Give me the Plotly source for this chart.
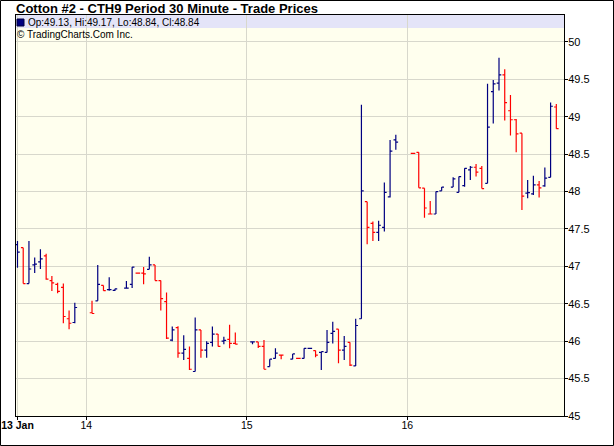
import plotly.graph_objects as go

# ---------------- data (30-minute bars; x = session slot index, 28 slots per day) -------------
slot = [16, 17, 18, 19, 20, 21, 22, 23, 24, 25, 26,
        29, 30, 31, 32, 33, 35, 36, 37, 38, 39, 40, 41, 42, 43, 44, 45, 46, 47, 48, 49, 50, 51, 52, 53, 54,
        57, 58, 59, 60, 61, 62, 64, 65, 66, 67, 68, 69, 70, 71, 72, 73, 74, 75, 76, 77, 78, 79, 80, 81, 82,
        85, 86, 87, 88, 89, 90, 92, 93, 94, 95, 96, 97, 98, 99, 100, 101, 102, 103, 104, 105, 106, 107, 108, 109, 110]

open_ = [47.29, 47.25, 46.77, 47.02, 47.06, 47.14, 46.81, 46.76, 46.72, 46.30, 46.25,
         46.38, 46.54, 46.745, 46.69, 46.68, 46.71, 46.76, 46.91, 46.91, 46.96, 47.02, 46.81, 46.53, 46.015, 46.18, 45.84, 45.77, 45.595, 46.15, 45.88, 45.985, 46.095, 46.00, 46.025, 45.97,
         45.99, 45.99, 45.93, 45.66, 45.77, 45.815, 45.76, 45.77, 45.77, 45.905, 45.875, 45.85, 45.85, 46.105, 46.16, 45.88, 45.985, 45.67, 46.30, 47.865, 47.575, 47.455, 47.52, 47.93, 48.69,
         48.51, 48.525, 48.045, 47.70, 47.70, 48.01, 48.06, 47.99, 48.08, 48.29, 48.325, 48.31, 48.11, 49.335, 49.45, 49.56, 49.08, 48.96, 48.78, 47.98, 47.97, 48.09, 48.075, 48.19, 49.13]

high = [47.34, 47.25, 47.34, 47.12, 47.23, 47.17, 46.87, 46.78, 46.77, 46.41, 46.515,
        46.54, 47.02, 46.745, 46.855, 46.70, 46.805, 46.99, 46.91, 46.99, 47.13, 47.02, 46.81, 46.65, 46.195, 46.20, 46.08, 45.93, 46.315, 46.15, 46.00, 46.195, 46.095, 46.06, 46.22, 46.115,
        45.99, 45.99, 46.015, 45.76, 45.905, 45.815, 45.83, 45.77, 45.905, 45.905, 45.875, 45.86, 46.15, 46.26, 46.16, 46.07, 45.985, 46.30, 49.16, 47.865, 47.60, 47.61, 48.12, 48.69, 48.76,
        48.51, 48.525, 48.045, 47.875, 48.00, 48.06, 48.19, 48.20, 48.31, 48.34, 48.37, 48.34, 49.44, 49.49, 49.79, 49.635, 49.29, 48.97, 48.78, 48.155, 48.21, 48.14, 48.32, 49.19, 49.17]

low = [46.98, 46.77, 46.77, 46.91, 46.965, 46.82, 46.67, 46.64, 46.24, 46.16, 46.24,
       46.37, 46.54, 46.675, 46.675, 46.67, 46.70, 46.71, 46.91, 46.76, 46.96, 46.81, 46.41, 46.03, 46.00, 45.78, 45.75, 45.615, 45.595, 45.78, 45.78, 45.93, 45.93, 45.96, 45.905, 45.96,
       45.96, 45.91, 45.625, 45.66, 45.77, 45.76, 45.76, 45.77, 45.77, 45.905, 45.785, 45.615, 45.85, 45.97, 45.705, 45.75, 45.67, 45.67, 46.30, 47.295, 47.34, 47.34, 47.465, 47.92, 48.56,
       48.51, 48.05, 47.65, 47.70, 47.70, 48.01, 48.06, 47.99, 48.065, 48.155, 48.20, 48.04, 48.11, 48.91, 49.35, 48.95, 48.75, 48.525, 47.755, 47.91, 47.955, 47.92, 48.065, 48.19, 48.84]

close = [47.19, 46.77, 46.965, 47.03, 47.10, 46.83, 46.78, 46.665, 46.33, 46.24, 46.45,
         46.37, 46.76, 46.675, 46.69, 46.70, 46.71, 46.99, 46.91, 46.90, 47.02, 46.81, 46.57, 46.04, 46.15, 45.84, 45.89, 45.625, 46.15, 45.88, 45.97, 46.095, 45.93, 46.01, 45.97, 45.96,
         45.99, 45.93, 45.625, 45.76, 45.84, 45.815, 45.83, 45.77, 45.905, 45.905, 45.815, 45.86, 45.985, 46.13, 45.88, 45.93, 45.68, 46.21, 48.01, 47.52, 47.455, 47.55, 47.99, 48.54, 48.66,
         48.51, 48.05, 47.78, 47.70, 48.00, 48.06, 48.17, 48.20, 48.31, 48.325, 48.26, 48.04, 48.86, 49.44, 49.56, 49.19, 48.96, 48.77, 47.94, 47.985, 48.09, 48.05, 48.18, 49.14, 48.84]

prev_close = 47.05          # close of the bar before the first one shown

day_ticks = [16, 28, 56, 84]
day_labels = ["<b>13 Jan</b>", "14", "15", "16"]

title_text = "Cotton #2 - CTH9 Period 30 Minute - Trade Prices"
credit_text = "\u00a9 TradingCharts.Com Inc."

UP = "#000080"
DOWN = "#FF0000"
FONT = "Liberation Sans, Arial, sans-serif"

# colour by change of close versus previous close (ties keep the previous direction)
dirs = []
last = prev_close
d = 1
for c in close:
    if c > last:
        d = 1
    elif c < last:
        d = -1
    dirs.append(d)
    last = c

fig = go.Figure()
for sign, col in [(1, UP), (-1, DOWN)]:
    idx = [i for i, dd in enumerate(dirs) if dd == sign]
    fig.add_trace(go.Ohlc(
        x=[slot[i] for i in idx],
        open=[open_[i] for i in idx],
        high=[high[i] for i in idx],
        low=[low[i] for i in idx],
        close=[close[i] for i in idx],
        increasing=dict(line=dict(color=col, width=1.2)),
        decreasing=dict(line=dict(color=col, width=1.2)),
        tickwidth=0.4,
        hoverinfo="skip",
        showlegend=False,
    ))

W, H = 614, 446
ML, MR, MT, MB = 16, 50, 15, 30
PW = W - ML - MR
PH = H - MT - MB

def px2x(px):
    return (px - ML) / PW

def py2y(py):
    return (H - MB - py) / PH

GRID = "#D8D8CC"

fig.update_layout(
    width=W, height=H,
    margin=dict(l=ML, r=MR, t=MT, b=MB, pad=0, autoexpand=False),
    paper_bgcolor="#FFFFFF",
    plot_bgcolor="#FFFFEE",
    hovermode=False,
    showlegend=False,
    font=dict(family=FONT, color="#000000", size=11),
    xaxis=dict(
        range=[15.74, 111.34],
        tickmode="array", tickvals=day_ticks, ticktext=day_labels,
        showgrid=True, gridcolor=GRID, gridwidth=1,
        zeroline=False,
        showline=True, linecolor="#000000", linewidth=1, mirror=True,
        ticks="outside", ticklen=3, tickcolor="#000000",
        ticklabelstandoff=-4,
        tickfont=dict(size=10.5, family=FONT, color="#000000"),
        rangeslider=dict(visible=False),
        automargin=False,
        fixedrange=True,
    ),
    yaxis=dict(
        side="right",
        range=[45, 50.36],
        tick0=45, dtick=0.5,
        showgrid=True, gridcolor=GRID, gridwidth=1,
        zeroline=False,
        showline=True, linecolor="#000000", linewidth=1, mirror=True,
        ticks="outside", ticklen=3, tickcolor="#000000",
        ticklabelstandoff=-2,
        tickfont=dict(size=11, family=FONT, color="#000000"),
        automargin=False,
        fixedrange=True,
    ),
)

last_i = len(close) - 1
legend_text = "Op:%.2f, Hi:%.2f, Lo:%.2f, Cl:%.2f" % (open_[last_i], high[last_i], low[last_i], close[last_i])

shapes = [
    # legend band
    dict(type="rect", xref="paper", yref="paper", x0=0, x1=1, y0=py2y(28), y1=1,
         fillcolor="#E4E4F8", line=dict(width=0), layer="below"),
    # navy legend square
    dict(type="rect", xref="paper", yref="paper", x0=px2x(17), x1=px2x(24), y0=py2y(26), y1=py2y(19),
         fillcolor=UP, line=dict(color="#000040", width=1), layer="above"),
    # outer border of the image
    dict(type="rect", xref="paper", yref="paper", x0=px2x(0.5), x1=px2x(613.5), y0=py2y(445.5), y1=py2y(0.5),
         fillcolor="rgba(0,0,0,0)", line=dict(color="#000000", width=1), layer="above"),
]
fig.update_layout(shapes=shapes)

annotations = [
    dict(text="<b>" + title_text + "</b>", xref="paper", yref="paper", x=px2x(14), y=py2y(8),
         xanchor="left", yanchor="middle", showarrow=False,
         font=dict(size=13, family=FONT, color="#000000")),
    dict(text=legend_text, xref="paper", yref="paper", x=px2x(26), y=py2y(22),
         xanchor="left", yanchor="middle", showarrow=False,
         font=dict(size=10, family=FONT, color="#000000")),
    dict(text=credit_text, xref="paper", yref="paper", x=px2x(15), y=py2y(34),
         xanchor="left", yanchor="middle", showarrow=False,
         font=dict(size=10, family=FONT, color="#000000")),
]
fig.update_layout(annotations=annotations)

fig.write_html(
    "out.html",
    config={"displayModeBar": False, "staticPlot": True},
    post_script="document.body.style.margin='0';document.body.style.overflow='hidden';",
)
